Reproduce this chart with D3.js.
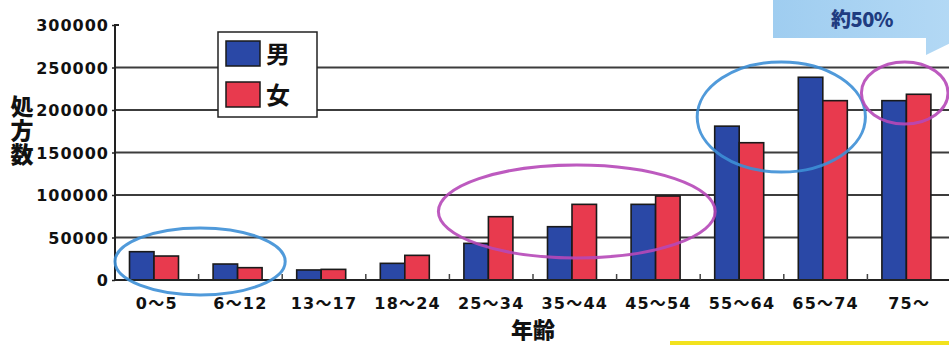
<!DOCTYPE html>
<html>
<head>
<meta charset="utf-8">
<script src="https://cdn.jsdelivr.net/npm/d3@7"></script>
<style>
  html, body { margin: 0; padding: 0; background: #ffffff; }
  svg { display: block; }
</style>
</head>
<body>
<svg id="chart" width="949" height="345"></svg>
<script>
// Age bands and prescription counts by sex
const categories = ["0～5", "6～12", "13～17", "18～24", "25～34", "35～44", "45～54", "55～64", "65～74", "75～"];
const seriesNames = ["男", "女"];
const maleValues   = [33300, 18800, 11800, 19600, 43100, 62700, 89000, 181000, 238500, 211000];
const femaleValues = [28200, 14500, 12500, 29000, 74500, 89000, 98800, 161500, 211000, 218500];
const yTicks = [0, 50000, 100000, 150000, 200000, 250000, 300000];
const yTitle = "処方数";
const xTitle = "年齢";
const calloutText = "約50%";

// Highlight rings: category span and value span
const rings = [
  { from: "0～5",   to: "6～12",  lo: -17600, hi: 61200,  padL: 0,   padR: 3,  color: "#3d8fd6" },
  { from: "25～34", to: "45～54", lo: 25900,  hi: 135300, padL: -11, padR: 15, color: "#b648b8" },
  { from: "55～64", to: "65～74", lo: 127000, hi: 256500, padL: -3,  padR: -2, color: "#3d8fd6" },
  { from: "75～",   to: "75～",   lo: 183500, hi: 256500, padL: -6,  padR: -3, color: "#b648b8" }
];

const colors = { "男": "#2a48a6", "女": "#e83a4e" };
const rows = categories.map((c, i) => ({ cat: c, "男": maleValues[i], "女": femaleValues[i] }));

const svg = d3.select("#chart");
const plotLeft = 115, plotRight = 951, plotTop = 25, plotBottom = 280;

const x = d3.scaleBand().domain(categories).range([plotLeft, plotRight]).padding(0);
const x1 = d3.scaleBand().domain(seriesNames).range([14.5, 63.5]).padding(0);
const y = d3.scaleLinear().domain([0, 300000]).range([plotBottom, plotTop]);

// callout arrow in the top-right corner
const defs = svg.append("defs");
const grad = defs.append("linearGradient").attr("id", "callGrad")
  .attr("x1", "0").attr("x2", "1").attr("y1", "0").attr("y2", "0");
grad.append("stop").attr("offset", "0").attr("stop-color", "#9fcdf0");
grad.append("stop").attr("offset", "1").attr("stop-color", "#b9dcf6");
svg.append("path")
  .attr("d", "M773,-10 L926,-10 L926,-25 L1008,15 L926,55 L926,38 L773,38 Z")
  .attr("fill", "url(#callGrad)");
svg.append("text")
  .attr("x", 862).attr("y", 27)
  .attr("text-anchor", "middle")
  .attr("font-family", "'Noto Sans CJK JP', 'DejaVu Sans', sans-serif")
  .attr("font-weight", 900)
  .attr("font-size", 20)
  .attr("letter-spacing", -0.5)
  .attr("fill", "#1f3c80")
  .text(calloutText);

// horizontal gridlines
svg.append("g")
  .selectAll("line")
  .data(yTicks.filter(t => t > 0 && t < 300000))
  .join("line")
  .attr("x1", plotLeft).attr("x2", 949)
  .attr("y1", d => y(d)).attr("y2", d => y(d))
  .attr("stroke", "#3c3c3c").attr("stroke-width", 2.2);

// bars
const groups = svg.append("g").selectAll("g")
  .data(rows)
  .join("g")
  .attr("transform", d => `translate(${x(d.cat)},0)`);
groups.selectAll("rect")
  .data(d => seriesNames.map(k => ({ key: k, value: d[k] })))
  .join("rect")
  .attr("x", d => x1(d.key))
  .attr("width", x1.bandwidth())
  .attr("y", d => y(d.value))
  .attr("height", d => y(0) - y(d.value))
  .attr("fill", d => colors[d.key])
  .attr("stroke", "#1a1a1a")
  .attr("stroke-width", 1.6);

// y axis
const yAxis = d3.axisLeft(y).tickValues(yTicks).tickSize(3).tickFormat(d3.format("d"));
const gy = svg.append("g").attr("transform", `translate(${plotLeft},0)`).call(yAxis);
gy.select(".domain").attr("stroke", "#222").attr("stroke-width", 2)
  .attr("d", `M4,${plotTop}H0V${plotBottom}`);
gy.selectAll(".tick line").attr("stroke", "#222").attr("stroke-width", 1.5);
gy.selectAll(".tick text")
  .attr("x", -6)
  .attr("dy", "0.36em")
  .attr("font-family", "'DejaVu Sans', sans-serif")
  .attr("font-weight", "bold")
  .attr("font-size", 16)
  .attr("letter-spacing", 1)
  .attr("fill", "#111");

// x axis
const xAxis = d3.axisBottom(x).tickSize(0).tickPadding(18);
const gx = svg.append("g").attr("transform", `translate(0,${plotBottom})`).call(xAxis);
gx.select(".domain").attr("stroke", "#222").attr("stroke-width", 2)
  .attr("d", `M${plotLeft},0H949`);
gx.selectAll(".tick text")
  .attr("font-family", "'DejaVu Sans', 'Noto Sans CJK JP', sans-serif")
  .attr("font-weight", "bold")
  .attr("font-size", 16)
  .attr("letter-spacing", 1.2)
  .attr("fill", "#111");
// separators between age bands
svg.append("g").selectAll("line")
  .data(categories.slice(1))
  .join("line")
  .attr("x1", d => x(d)).attr("x2", d => x(d))
  .attr("y1", plotBottom - 6).attr("y2", plotBottom)
  .attr("stroke", "#444").attr("stroke-width", 1.5);

// axis titles (y title set vertically)
svg.append("text")
  .attr("x", 22)
  .attr("y", 131)
  .attr("text-anchor", "middle")
  .style("writing-mode", "vertical-rl")
  .style("text-orientation", "upright")
  .attr("font-family", "'Noto Sans CJK JP', sans-serif")
  .attr("font-weight", 900)
  .attr("font-size", 23)
  .attr("letter-spacing", 1)
  .attr("fill", "#111")
  .text(yTitle);
svg.append("text")
  .attr("x", (plotLeft + plotRight) / 2).attr("y", 338)
  .attr("text-anchor", "middle")
  .attr("font-family", "'Noto Sans CJK JP', sans-serif")
  .attr("font-weight", 900)
  .attr("font-size", 22)
  .attr("fill", "#111")
  .text(xTitle);

// legend
const lg = svg.append("g");
lg.append("rect").attr("x", 218).attr("y", 32).attr("width", 99).attr("height", 85)
  .attr("fill", "#fff").attr("stroke", "#222").attr("stroke-width", 1.5);
seriesNames.forEach((k, i) => {
  lg.append("rect").attr("x", 226).attr("y", 41 + i * 41).attr("width", 34).attr("height", 25)
    .attr("fill", colors[k]).attr("stroke", "#1a1a1a").attr("stroke-width", 1.5);
  lg.append("text").attr("x", 266).attr("y", 63 + i * 41)
    .attr("font-family", "'Noto Sans CJK JP', sans-serif")
    .attr("font-weight", 700)
    .attr("font-size", 24)
    .attr("fill", "#111")
    .text(k);
});

// highlight rings
svg.append("g").selectAll("ellipse")
  .data(rings)
  .join("ellipse")
  .each(function (d) {
    const x0 = x(d.from) + d.padL;
    const xEnd = x(d.to) + x.bandwidth() + d.padR;
    const yTop = y(d.hi), yBot = y(d.lo);
    d3.select(this)
      .attr("cx", (x0 + xEnd) / 2)
      .attr("cy", (yTop + yBot) / 2)
      .attr("rx", (xEnd - x0) / 2)
      .attr("ry", (yBot - yTop) / 2);
  })
  .attr("fill", "none")
  .attr("stroke", d => d.color)
  .attr("stroke-width", 3)
  .attr("opacity", 0.9);

// yellow underline at the bottom edge
svg.append("rect").attr("x", 670).attr("y", 341).attr("width", 279).attr("height", 4)
  .attr("fill", "#f2e21e");
</script>
</body>
</html>
